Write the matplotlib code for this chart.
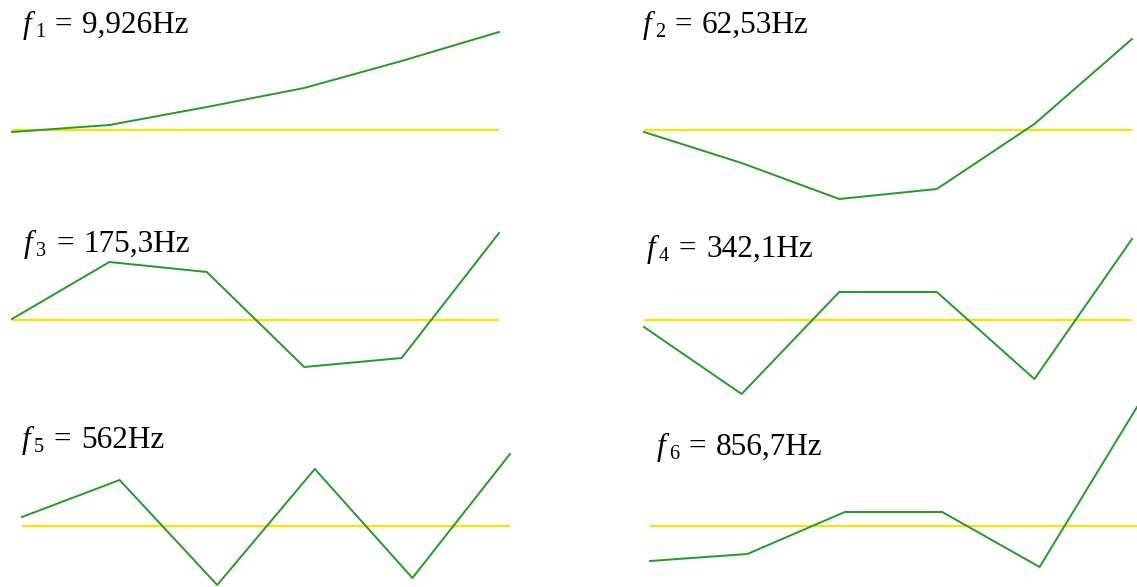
import matplotlib
matplotlib.use("Agg")
import matplotlib.pyplot as plt
import numpy as np

# Natural frequencies (Hz) and their text as printed
freq_labels = ["9,926", "62,53", "175,3", "342,1", "562", "856,7"]

# Mode shape displacements at the six nodes (arbitrary units)
nodes = [0, 1, 2, 3, 4, 5]
mode1 = [-2, 5, 23, 42, 69, 98]
mode2 = [-2, -33, -69, -59, 6, 91]
mode3 = [1, 58, 48, -47, -38, 87]
mode4 = [-7, -74, 28, 28, -59, 81]
mode5 = [9, 46, -59, 57, -52, 72]
mode6 = [-35, -28, 14, 14, -41, 119]
modes = [mode1, mode2, mode3, mode4, mode5, mode6]

W, H = 1137, 587
fig = plt.figure(figsize=(W / 100, H / 100), dpi=100)
SERIF = "Liberation Serif"

# Panel placement in pixels: left, right, zero line row
panels = [
    (12, 499, 130),
    (644, 1132, 130),
    (12, 499, 320),
    (644, 1132, 320),
    (22, 510, 526),
    (650, 1137, 526),
]
# Label anchor (left, baseline) in pixels
label_pos = [(23, 33), (643, 33), (24, 252), (647, 257), (22, 448), (657, 455)]


def px_text(x, y, s, **kw):
    fig.text(x / W, 1 - y / H, s, ha="left", va="baseline", family=SERIF, **kw)


UP, DOWN = 130, 90
for i, ((x0, x1, yb), shape) in enumerate(zip(panels, modes)):
    ax = fig.add_axes([x0 / W, 1 - (yb + DOWN) / H, (x1 - x0) / W, (UP + DOWN) / H])
    ax.set_xlim(nodes[0], nodes[-1])
    ax.set_ylim(-DOWN, UP)
    ax.axis("off")
    ax.patch.set_alpha(0)
    ax.plot([nodes[0], nodes[-1]], [0, 0], color="#ffe100", lw=1.6,
            solid_capstyle="butt", clip_on=False, zorder=1)
    ax.plot(nodes, shape, color="#229c22", lw=1.4, clip_on=False, zorder=2)

    # Label: italic f, lowered index, equals sign, value
    lx, ly = label_pos[i]
    px_text(lx, ly, "f", fontsize=22.5, style="italic")
    px_text(lx + 12, ly + 4, str(i + 1), fontsize=14.5)
    px_text(lx + 32, ly, "=", fontsize=22.5)
    px_text(lx + 59, ly, freq_labels[i] + "Hz", fontsize=22.5)

fig.savefig("out.png", dpi=100)
